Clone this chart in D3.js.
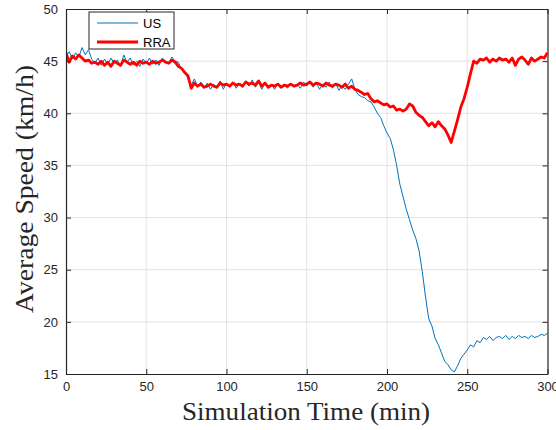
<!DOCTYPE html>
<html>
<head>
<meta charset="utf-8">
<script src="https://cdn.jsdelivr.net/npm/d3@7/dist/d3.min.js"></script>
<style>
  html, body { margin: 0; padding: 0; background: #fff; }
  svg { display: block; }
</style>
</head>
<body>
<div id="chart"></div>
<script>
"use strict";

// ---------------------------------------------------------------------------
// Data (one sample every 2 min)
// ---------------------------------------------------------------------------

const timeMin = d3.range(0, 301, 2);

const usSpeed = [
  45.5, 45.9, 45.2, 45.8, 45.4, 46.3, 45.6, 46.1, 45.2, 44.8,
  45.3, 44.6, 45.2, 44.7, 45.3, 44.8, 45.1, 44.5, 45.6, 44.9,
  45.3, 44.6, 45.0, 44.5, 45.2, 44.8, 45.3, 44.7, 45.1, 44.6,
  45.3, 45.0, 44.8, 45.4, 45.0, 44.9, 44.2, 44.0, 43.3, 42.7,
  43.3, 42.5, 43.0, 42.4, 42.9, 42.3, 42.8, 42.4, 43.1, 42.3,
  42.9, 42.5, 43.0, 42.4, 42.8, 42.5, 43.0, 42.6, 43.2, 42.5,
  43.0, 42.3, 42.9, 42.4, 42.8, 42.3, 42.9, 42.5, 42.8, 42.4,
  42.9, 42.5, 42.8, 42.4, 43.0, 42.6, 43.1, 42.5, 42.9, 42.3,
  42.8, 42.5, 43.0, 42.4, 42.9, 42.2, 42.6, 42.3, 42.8, 43.3,
  42.3, 41.8, 41.6, 41.5, 41.2, 41.1, 40.6, 40.0, 39.6, 38.8,
  38.1, 37.6, 36.5, 35.0, 33.2, 32.0, 30.8, 29.8, 28.8, 28.0,
  26.8, 24.8, 22.4, 20.3, 19.6, 18.4, 17.8, 17.0, 16.2, 15.9,
  15.4, 15.2, 15.8, 16.5, 16.9, 17.3, 17.8, 17.6, 18.2, 18.0,
  18.5, 18.3, 18.6, 18.2, 18.5, 18.6, 18.4, 18.7, 18.3, 18.6,
  18.4, 18.7, 18.5, 18.6, 18.4, 18.7, 18.5, 18.6, 18.8, 18.7,
  18.9
];

const rraSpeed = [
  45.8, 44.9, 45.5, 45.2, 45.6, 45.3, 45.0, 45.1, 44.8, 44.9,
  44.7, 45.0, 44.6, 44.9, 44.5, 45.0, 44.8, 44.6, 45.1, 44.9,
  44.7, 44.9, 44.6, 45.0, 44.8, 44.9, 44.7, 45.0, 44.8, 44.9,
  45.1, 44.9, 44.8, 45.1, 44.9, 44.5, 44.3, 43.9, 43.6, 42.4,
  42.9, 42.6, 42.8, 42.5, 42.6, 42.8, 42.6, 42.5, 42.9, 42.7,
  42.8, 42.6, 42.9, 42.7, 42.8, 42.6, 43.0, 42.8, 42.9, 42.7,
  43.1, 42.6, 42.9, 42.5, 42.7, 42.6, 42.8, 42.5, 42.7, 42.6,
  42.8, 42.6, 42.7, 42.9, 42.7, 42.8, 43.0, 42.7, 42.9, 42.8,
  42.6, 42.9, 42.7, 42.6, 42.8, 42.7, 42.5, 42.8, 42.4, 42.6,
  42.3, 42.2, 42.0, 41.8, 41.9, 41.4, 41.1, 41.2, 41.0, 40.8,
  40.9, 40.6, 40.7, 40.3, 40.4, 40.2, 40.4, 40.9, 40.7, 40.1,
  39.8, 39.6, 39.2, 38.8, 39.1, 38.7, 39.2, 38.8, 38.5, 37.9,
  37.2, 38.3, 39.4, 40.6, 41.4, 42.5, 43.8, 45.0, 44.8, 45.2,
  45.1, 45.3, 44.9, 45.2, 45.0, 45.3, 45.1, 45.2, 44.9, 45.3,
  44.6, 45.2, 45.4, 45.1, 44.7, 45.3, 45.0, 45.2, 45.4, 45.3,
  45.8
];

const xTicks = [0, 50, 100, 150, 200, 250, 300];
const yTicks = [15, 20, 25, 30, 35, 40, 45, 50];

const seriesNames = ["US", "RRA"];
const seriesColors = ["#0072bd", "#ff0000"];
const seriesWidths = [1, 2.8];

// ---------------------------------------------------------------------------
// Layout
// ---------------------------------------------------------------------------

const width = 556;
const height = 430;
const margin = { top: 9, right: 8.5, bottom: 56, left: 66 };
const plotW = width - margin.left - margin.right;
const plotH = height - margin.top - margin.bottom;
const axisColor = "#262626";
const gridColor = "#e3e3e3";
const tickLen = 5;

const svg = d3.select("#chart")
  .append("svg")
  .attr("width", width)
  .attr("height", height);

const g = svg.append("g")
  .attr("transform", `translate(${margin.left},${margin.top})`);

const x = d3.scaleLinear().domain([0, 300]).range([0, plotW]);
const y = d3.scaleLinear().domain([15, 50]).range([plotH, 0]);

// ---------------------------------------------------------------------------
// Grid
// ---------------------------------------------------------------------------

g.append("g")
  .selectAll("line")
  .data(xTicks.slice(1, -1))
  .join("line")
  .attr("x1", (d) => x(d)).attr("x2", (d) => x(d))
  .attr("y1", 0).attr("y2", plotH)
  .attr("stroke", gridColor);

g.append("g")
  .selectAll("line")
  .data(yTicks.slice(1, -1))
  .join("line")
  .attr("y1", (d) => y(d)).attr("y2", (d) => y(d))
  .attr("x1", 0).attr("x2", plotW)
  .attr("stroke", gridColor);

// ---------------------------------------------------------------------------
// Lines
// ---------------------------------------------------------------------------

g.append("clipPath")
  .attr("id", "plot-clip")
  .append("rect")
  .attr("width", plotW)
  .attr("height", plotH);

const line = d3.line()
  .x((d) => x(d[0]))
  .y((d) => y(d[1]));

[usSpeed, rraSpeed].forEach((vals, i) => {
  g.append("path")
    .datum(timeMin.map((t, k) => [t, vals[k]]))
    .attr("clip-path", "url(#plot-clip)")
    .attr("fill", "none")
    .attr("stroke", seriesColors[i])
    .attr("stroke-width", seriesWidths[i])
    .attr("stroke-linejoin", "round")
    .attr("d", line);
});

// ---------------------------------------------------------------------------
// Axes (box on, ticks inside)
// ---------------------------------------------------------------------------

function styleAxis(sel, hideText) {
  sel.select(".domain").attr("stroke", axisColor).attr("stroke-width", 1.2);
  sel.selectAll(".tick line").attr("stroke", axisColor);
  sel.selectAll(".tick text")
    .attr("fill", axisColor)
    .attr("font-family", "Liberation Sans, Arial, sans-serif")
    .attr("font-size", "13px");
  if (hideText) sel.selectAll(".tick text").remove();
}

g.append("g")
  .attr("transform", `translate(0,${plotH})`)
  .call(d3.axisBottom(x).tickValues(xTicks).tickSizeInner(-tickLen).tickSizeOuter(0).tickPadding(8))
  .call((s) => styleAxis(s, false));

g.append("g")
  .call(d3.axisTop(x).tickValues(xTicks).tickSizeInner(-tickLen).tickSizeOuter(0))
  .call((s) => styleAxis(s, true));

g.append("g")
  .call(d3.axisLeft(y).tickValues(yTicks).tickSizeInner(-tickLen).tickSizeOuter(0).tickPadding(8))
  .call((s) => styleAxis(s, false));

g.append("g")
  .attr("transform", `translate(${plotW},0)`)
  .call(d3.axisRight(y).tickValues(yTicks).tickSizeInner(-tickLen).tickSizeOuter(0))
  .call((s) => styleAxis(s, true));

// ---------------------------------------------------------------------------
// Axis titles
// ---------------------------------------------------------------------------

svg.append("text")
  .attr("x", 182)
  .attr("y", 420)
  .attr("textLength", 248)
  .attr("lengthAdjust", "spacingAndGlyphs")
  .attr("font-family", "Liberation Serif, Times New Roman, serif")
  .attr("font-size", "25px")
  .attr("fill", axisColor)
  .text("Simulation Time (min)");

svg.append("text")
  .attr("transform", "translate(33,313) rotate(-90)")
  .attr("textLength", 248)
  .attr("lengthAdjust", "spacingAndGlyphs")
  .attr("font-family", "Liberation Serif, Times New Roman, serif")
  .attr("font-size", "25px")
  .attr("fill", axisColor)
  .text("Average Speed (km/h)");

// ---------------------------------------------------------------------------
// Legend
// ---------------------------------------------------------------------------

const legend = svg.append("g").attr("transform", "translate(89,12)");

legend.append("rect")
  .attr("width", 85)
  .attr("height", 37)
  .attr("fill", "#fff")
  .attr("stroke", axisColor)
  .attr("stroke-width", 1);

seriesNames.forEach((name, i) => {
  const ly = 11 + i * 19;
  legend.append("line")
    .attr("x1", 8).attr("x2", 49)
    .attr("y1", ly).attr("y2", ly)
    .attr("stroke", seriesColors[i])
    .attr("stroke-width", seriesWidths[i]);
  legend.append("text")
    .attr("x", 54)
    .attr("y", ly + 4.5)
    .attr("font-family", "Liberation Sans, Arial, sans-serif")
    .attr("font-size", "13px")
    .attr("fill", "#000")
    .text(name);
});
</script>
</body>
</html>
